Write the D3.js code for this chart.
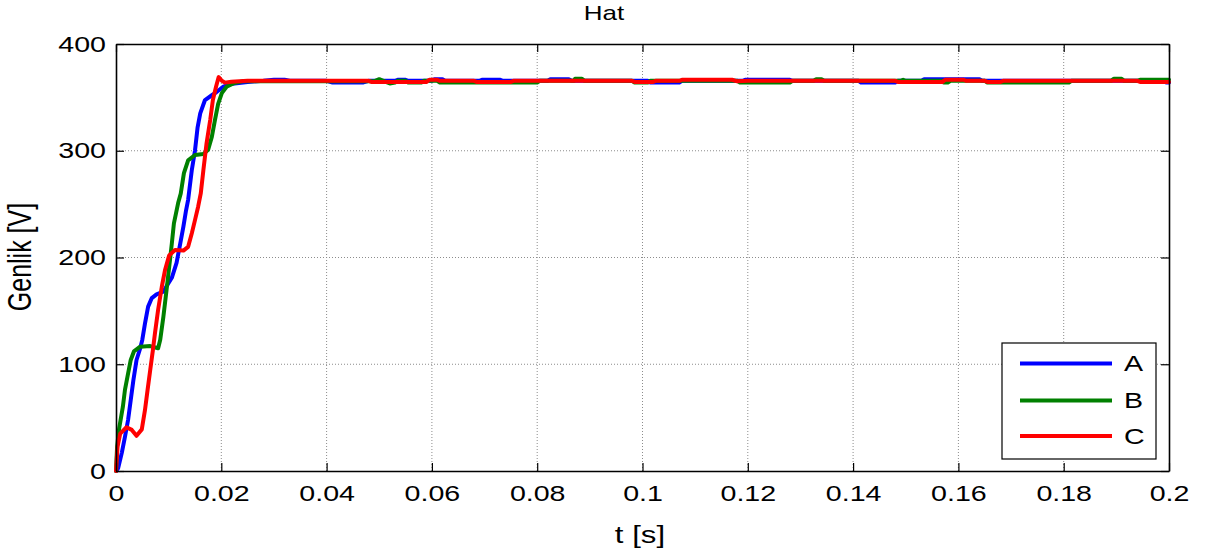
<!DOCTYPE html>
<html><head><meta charset="utf-8">
<script src="https://cdn.jsdelivr.net/npm/d3@7"></script>
<style>html,body{margin:0;padding:0;background:#fff;}svg{display:block;}</style>
</head><body>
<svg id="c" width="1210" height="552"></svg>
<script>
// ---- data ----
const seriesNames = ["A", "B", "C"];
const seriesColors = ["#0000ff", "#008000", "#ff0000"];
const xTicks = [0, 0.02, 0.04, 0.06, 0.08, 0.1, 0.12, 0.14, 0.16, 0.18, 0.2];
const xTickLabels = ["0", "0.02", "0.04", "0.06", "0.08", "0.1", "0.12", "0.14", "0.16", "0.18", "0.2"];
const yTicks = [0, 100, 200, 300, 400];
const yTickLabels = ["0", "100", "200", "300", "400"];

const seriesA = [[0,0],[0.0004,2.5],[0.0011,17],[0.0017,32],[0.0023,48],[0.0028,66.5],[0.0033,85],[0.0039,104],[0.0046,115],[0.0050,123],[0.0055,138],[0.0061,154],[0.0068,162],[0.0077,165.5],[0.0090,168],[0.0096,173],[0.0106,181],[0.0115,195],[0.0122,213],[0.0128,229],[0.0133,244],[0.0137,254],[0.0144,282],[0.0150,300],[0.0155,322],[0.0160,335],[0.0169,347.5],[0.0182,352],[0.0191,355],[0.0204,360],[0.0217,362.5],[0.025,364.5],[0.028,365.5],[0.030,366.5],[0.032,366.5],[0.033,365.5],[0.040,365.5],[0.041,364],[0.047,364],[0.048,365.5],[0.053,365.5],[0.0535,366.5],[0.055,366.5],[0.0555,365.5],[0.060,365.5],[0.0605,367],[0.062,367],[0.0625,365.5],[0.069,365.5],[0.0695,366.5],[0.073,366.5],[0.0735,365.5],[0.082,365.5],[0.0825,367],[0.086,367],[0.0865,365.5],[0.101,365.5],[0.1015,364],[0.107,364],[0.1075,365.5],[0.119,365.5],[0.1195,366.5],[0.128,366.5],[0.1285,365.5],[0.141,365.5],[0.1415,364],[0.148,364],[0.1485,365.5],[0.153,365.5],[0.1535,367],[0.164,367],[0.1645,365.5],[0.199,365.5],[0.1995,364],[0.2,364]];

const seriesB = [[0,0],[0.0002,22],[0.0006,40],[0.0013,60],[0.0017,76],[0.0023,91.5],[0.0028,104],[0.0034,112],[0.0046,116.5],[0.0065,117],[0.008,115],[0.0084,123],[0.009,144.5],[0.0096,169.5],[0.0101,191],[0.0106,213],[0.011,232],[0.0118,251],[0.0123,260],[0.0129,279],[0.0137,291],[0.015,296],[0.0166,297],[0.0175,301],[0.0182,313],[0.0188,329],[0.0194,344],[0.0201,354],[0.021,360],[0.0225,363.5],[0.024,365],[0.049,365],[0.050,367],[0.051,365],[0.052,363],[0.053,364],[0.0535,365.5],[0.055,365.5],[0.0555,364],[0.058,364],[0.0585,365.5],[0.061,365.5],[0.0615,364],[0.080,364],[0.0805,365.5],[0.087,365.5],[0.0872,367.5],[0.0885,367.5],[0.089,365.5],[0.098,365.5],[0.0985,364],[0.101,364],[0.1015,365.5],[0.118,365.5],[0.1185,364],[0.128,364],[0.1285,365.5],[0.1325,365.5],[0.133,367],[0.134,367],[0.1345,365.5],[0.149,365.5],[0.1495,366.5],[0.150,365.5],[0.157,365.5],[0.1572,364],[0.158,364],[0.1585,365.5],[0.165,365.5],[0.1655,364],[0.181,364],[0.1815,365.5],[0.189,365.5],[0.1895,367.5],[0.191,367.5],[0.1915,365.5],[0.194,365.5],[0.1945,366.5],[0.2,366.5]];

const seriesC = [[0,0],[0.0003,23],[0.0008,35],[0.002,41],[0.003,38.5],[0.0039,33],[0.0049,39],[0.0055,57],[0.006,76],[0.0065,94.6],[0.007,113],[0.0074,129],[0.008,151],[0.0087,172.6],[0.0093,188],[0.0101,202],[0.0112,207],[0.0128,206.5],[0.0137,210],[0.0144,222.7],[0.015,235],[0.0156,247.6],[0.0161,260],[0.0166,282],[0.0172,307],[0.0179,329],[0.0184,347.5],[0.019,360],[0.0195,369],[0.0201,365.6],[0.0207,363.8],[0.0219,364.7],[0.025,365.5],[0.048,365.5],[0.0485,364.5],[0.059,364.5],[0.0595,366.5],[0.061,366.5],[0.0615,365.5],[0.068,365.5],[0.0685,364.5],[0.075,364.5],[0.0755,365.5],[0.098,365.5],[0.0985,364.5],[0.102,364.5],[0.1025,365.5],[0.107,365.5],[0.1075,366.5],[0.117,366.5],[0.118,365],[0.120,365.5],[0.148,365.5],[0.1485,364.5],[0.157,364.5],[0.1575,366.5],[0.161,366.5],[0.1615,365.5],[0.165,365.5],[0.1655,364.5],[0.168,364.5],[0.1685,365.5],[0.194,365.5],[0.1945,364.5],[0.2,364.5]];

const allSeries = [seriesA, seriesB, seriesC];

// ---- layout ----
const L = 116, R = 1169, T = 44, B = 471;
const SX = 1.3; // horizontal glyph stretch of the reference
const font = "'Liberation Sans', Arial, sans-serif";

const svg = d3.select("#c");
const x = d3.scaleLinear().domain([0, 0.2]).range([L, R]);
const y = d3.scaleLinear().domain([0, 400]).range([B, T]);

// grid
const grid = svg.append("g");
grid.selectAll("line.gx").data(xTicks.slice(1, -1)).enter().append("line")
  .attr("x1", d => x(d)).attr("x2", d => x(d)).attr("y1", T).attr("y2", B)
  .attr("stroke", "#8c8c8c").attr("stroke-width", 1).attr("stroke-dasharray", "1,2");
grid.selectAll("line.gy").data(yTicks.slice(1, -1)).enter().append("line")
  .attr("y1", d => y(d)).attr("y2", d => y(d)).attr("x1", L).attr("x2", R)
  .attr("stroke", "#8c8c8c").attr("stroke-width", 1).attr("stroke-dasharray", "1,2");

// lines
const line = d3.line().x(d => x(d[0])).y(d => y(d[1]));
allSeries.forEach((s, i) => {
  svg.append("path").datum(s).attr("d", line)
    .attr("fill", "none").attr("stroke", seriesColors[i])
    .attr("stroke-width", 4).attr("stroke-linejoin", "round").attr("stroke-linecap", "round");
});

// axes (ticks inside)
const tl = 8;
const axB = svg.append("g").attr("transform", `translate(0,${B})`)
  .call(d3.axisBottom(x).tickValues(xTicks).tickFormat((d, i) => xTickLabels[i]).tickSizeInner(-tl).tickSizeOuter(0).tickPadding(14));
const axT = svg.append("g").attr("transform", `translate(0,${T})`)
  .call(d3.axisTop(x).tickValues(xTicks).tickFormat("").tickSizeInner(-tl).tickSizeOuter(0));
const axL = svg.append("g").attr("transform", `translate(${L},0)`)
  .call(d3.axisLeft(y).tickValues(yTicks).tickFormat((d, i) => yTickLabels[i]).tickSizeInner(-tl).tickSizeOuter(0).tickPadding(10));
const axR = svg.append("g").attr("transform", `translate(${R},0)`)
  .call(d3.axisRight(y).tickValues(yTicks).tickFormat("").tickSizeInner(-tl).tickSizeOuter(0));
[axB, axT, axL, axR].forEach(a => {
  a.select(".domain").attr("stroke", "#000").attr("stroke-width", 1.6);
  a.selectAll(".tick line").attr("stroke", "#000").attr("stroke-width", 1.2);
  a.selectAll("text").attr("font-family", font).attr("font-size", 22).attr("fill", "#000");
});
axB.selectAll(".tick text").each(function() {
  const t = d3.select(this);
  const yy = +t.attr("y");
  t.attr("y", null).attr("dy", "0.71em").attr("transform", `translate(0,${yy}) scale(${SX},1)`);
});
axL.selectAll(".tick text").each(function() {
  const t = d3.select(this);
  const xx = +t.attr("x");
  t.attr("x", null).attr("transform", `translate(${xx},0) scale(${SX},1)`);
});

// title and labels
svg.append("text").attr("transform", `translate(604,20) scale(${SX},1)`)
  .attr("text-anchor", "middle").attr("font-family", font).attr("font-size", 20).text("Hat");
svg.append("text").attr("transform", `translate(640,543) scale(${SX},1)`)
  .attr("text-anchor", "middle").attr("font-family", font).attr("font-size", 24).text("t [s]");
svg.append("text").attr("transform", `translate(31,257) scale(${SX},1) rotate(-90)`)
  .attr("text-anchor", "middle").attr("font-family", font).attr("font-size", 25).text("Genlik [V]");

// legend
const lg = svg.append("g");
lg.append("rect").attr("x", 1002).attr("y", 343).attr("width", 154).attr("height", 116)
  .attr("fill", "#fff").attr("stroke", "#000").attr("stroke-width", 1.2);
const legY = [363.5, 400.5, 436];
seriesNames.forEach((n, i) => {
  lg.append("line").attr("x1", 1020).attr("x2", 1112).attr("y1", legY[i]).attr("y2", legY[i])
    .attr("stroke", seriesColors[i]).attr("stroke-width", 4);
  lg.append("text").attr("transform", `translate(1124,${legY[i]}) scale(${SX},1)`)
    .attr("dy", "0.36em").attr("font-family", font).attr("font-size", 22).text(n);
});
</script>
</body></html>
